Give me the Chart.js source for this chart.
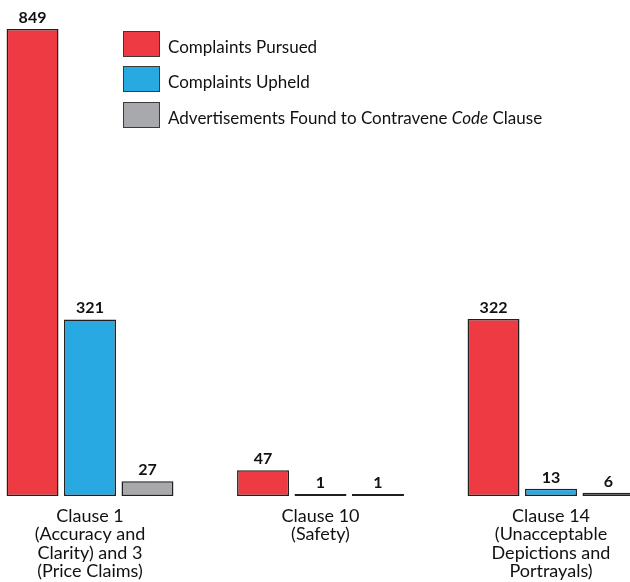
<!DOCTYPE html>
<html>
<head>
<meta charset="utf-8">
<script src="https://cdn.jsdelivr.net/npm/chart.js@4/dist/chart.umd.min.js"></script>
<style>
  html, body { margin: 0; padding: 0; background: #fff; }
  #wrap { position: relative; width: 630px; height: 582px; }
  #legend { position: absolute; left: 123px; top: 30px; font-family: Lato, sans-serif; font-size: 17px; color: #111; }
  .item { display: flex; align-items: center; height: 27px; margin-bottom: 8.5px; }
  .item span { padding-top: 5px; }
  .swatch { width: 35px; height: 24px; border: 1.5px solid #3a3a3a; margin-right: 8px; }
</style>
</head>
<body>
<div id="wrap">
  <canvas id="chart" width="630" height="582"></canvas>
  <div id="legend"></div>
</div>
<script>
// Clauses of the Code, each label split over several lines
const categories = [
  ['Clause 1', '(Accuracy and', 'Clarity) and 3', '(Price Claims)'],
  ['Clause 10', '(Safety)'],
  ['Clause 14', '(Unacceptable', 'Depictions and', 'Portrayals)']
];
const seriesNames = [
  'Complaints Pursued',
  'Complaints Upheld',
  'Advertisements Found to Contravene Code Clause'
];
const complaintsPursued = [849, 47, 322];
const complaintsUpheld = [321, 1, 13];
const adsContravening = [27, 1, 6];
const seriesColors = ['#ee3a42', '#29a9e1', '#a7a9ac'];

// Value labels drawn above each bar
const valueLabels = {
  id: 'valueLabels',
  afterDatasetsDraw(chart) {
    const ctx = chart.ctx;
    ctx.save();
    ctx.font = 'bold 16px Lato, sans-serif';
    ctx.fillStyle = '#111';
    ctx.textAlign = 'center';
    ctx.textBaseline = 'alphabetic';
    chart.data.datasets.forEach((ds, di) => {
      chart.getDatasetMeta(di).data.forEach((bar, i) => {
        ctx.fillText(String(ds.data[i]), bar.x, bar.y - 6);
      });
    });
    ctx.restore();
  }
};

const barStyle = {
  borderColor: '#231f20',
  borderWidth: 1.5,
  borderSkipped: false,
  categoryPercentage: 0.748,
  barPercentage: 0.904,
  minBarLength: 2,
  clip: false
};

const chart = new Chart(document.getElementById('chart'), {
  type: 'bar',
  data: {
    labels: categories,
    datasets: [
      Object.assign({ label: seriesNames[0], data: complaintsPursued, backgroundColor: seriesColors[0] }, barStyle),
      Object.assign({ label: seriesNames[1], data: complaintsUpheld, backgroundColor: seriesColors[1] }, barStyle),
      Object.assign({ label: seriesNames[2], data: adsContravening, backgroundColor: seriesColors[2] }, barStyle)
    ]
  },
  options: {
    responsive: false,
    animation: false,
    layout: { padding: { left: 90, right: 79, top: 1, bottom: 0 } },
    scales: {
      x: {
        offset: false,
        grid: { display: false, drawTicks: false },
        border: { display: false },
        ticks: {
          color: '#111',
          font: { family: 'Lato, sans-serif', size: 18, lineHeight: 1.02 },
          padding: 11,
          maxRotation: 0,
          autoSkip: false
        },
        afterFit(scale) { scale.height = 86; }
      },
      y: { display: false, min: 0, max: 900 }
    },
    plugins: {
      legend: { display: false },
      tooltip: { enabled: false }
    }
  },
  plugins: [valueLabels]
});

// Legend built from the dataset names and colours
const legendEl = document.getElementById('legend');
seriesNames.forEach((name, i) => {
  const item = document.createElement('div');
  item.className = 'item';
  const sw = document.createElement('div');
  sw.className = 'swatch';
  sw.style.background = seriesColors[i];
  const txt = document.createElement('span');
  txt.innerHTML = name.replace('Code', '<em>Code</em>');
  item.appendChild(sw);
  item.appendChild(txt);
  legendEl.appendChild(item);
});
</script>
</body>
</html>
